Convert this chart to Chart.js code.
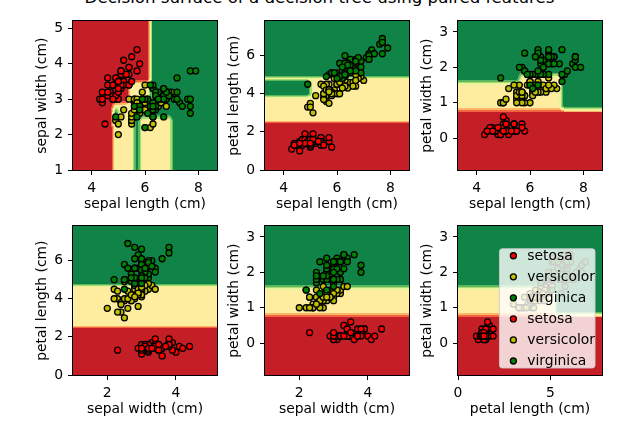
<!DOCTYPE html>
<html><head><meta charset="utf-8">
<script src="https://cdn.jsdelivr.net/npm/chart.js@4.4.0/dist/chart.umd.min.js"></script>
<style>
html,body{margin:0;padding:0;background:#fff;width:639px;height:430px;overflow:hidden;position:relative;}
canvas{position:absolute;}
#title{position:absolute;left:0;top:-12px;width:639px;text-align:center;font-family:"DejaVu Sans";font-size:16.67px;line-height:20px;white-space:nowrap;color:#000;}
</style></head><body>
<div id="title">Decision surface of a decision tree using paired features</div>
<script>
// ---------------- data ----------------
const speciesNames = ['setosa', 'versicolor', 'virginica'];
const featureNames = ['sepal length (cm)', 'sepal width (cm)', 'petal length (cm)', 'petal width (cm)'];

const setosaSL = [5.1,4.9,4.7,4.6,5.0,5.4,4.6,5.0,4.4,4.9,5.4,4.8,4.8,4.3,5.8,5.7,5.4,5.1,5.7,5.1,5.4,5.1,4.6,5.1,4.8,5.0,5.0,5.2,5.2,4.7,4.8,5.4,5.2,5.5,4.9,5.0,5.5,4.9,4.4,5.1,5.0,4.5,4.4,5.0,5.1,4.8,5.1,4.6,5.3,5.0];
const setosaSW = [3.5,3.0,3.2,3.1,3.6,3.9,3.4,3.4,2.9,3.1,3.7,3.4,3.0,3.0,4.0,4.4,3.9,3.5,3.8,3.8,3.4,3.7,3.6,3.3,3.4,3.0,3.4,3.5,3.4,3.2,3.1,3.4,4.1,4.2,3.1,3.2,3.5,3.6,3.0,3.4,3.5,2.3,3.2,3.5,3.8,3.0,3.8,3.2,3.7,3.3];
const setosaPL = [1.4,1.4,1.3,1.5,1.4,1.7,1.4,1.5,1.4,1.5,1.5,1.6,1.4,1.1,1.2,1.5,1.3,1.4,1.7,1.5,1.7,1.5,1.0,1.7,1.9,1.6,1.6,1.5,1.4,1.6,1.6,1.5,1.5,1.4,1.5,1.2,1.3,1.4,1.3,1.5,1.3,1.3,1.3,1.6,1.9,1.4,1.6,1.4,1.5,1.4];
const setosaPW = [0.2,0.2,0.2,0.2,0.2,0.4,0.3,0.2,0.2,0.1,0.2,0.2,0.1,0.1,0.2,0.4,0.4,0.3,0.3,0.3,0.2,0.4,0.2,0.5,0.2,0.2,0.4,0.2,0.2,0.2,0.2,0.4,0.1,0.2,0.2,0.2,0.2,0.1,0.2,0.2,0.3,0.3,0.2,0.6,0.4,0.3,0.2,0.2,0.2,0.2];

const versicolorSL = [7.0,6.4,6.9,5.5,6.5,5.7,6.3,4.9,6.6,5.2,5.0,5.9,6.0,6.1,5.6,6.7,5.6,5.8,6.2,5.6,5.9,6.1,6.3,6.1,6.4,6.6,6.8,6.7,6.0,5.7,5.5,5.5,5.8,6.0,5.4,6.0,6.7,6.3,5.6,5.5,5.5,6.1,5.8,5.0,5.6,5.7,5.7,6.2,5.1,5.7];
const versicolorSW = [3.2,3.2,3.1,2.3,2.8,2.8,3.3,2.4,2.9,2.7,2.0,3.0,2.2,2.9,2.9,3.1,3.0,2.7,2.2,2.5,3.2,2.8,2.5,2.8,2.9,3.0,2.8,3.0,2.9,2.6,2.4,2.4,2.7,2.7,3.0,3.4,3.1,2.3,3.0,2.5,2.6,3.0,2.6,2.3,2.7,3.0,2.9,2.9,2.5,2.8];
const versicolorPL = [4.7,4.5,4.9,4.0,4.6,4.5,4.7,3.3,4.6,3.9,3.5,4.2,4.0,4.7,3.6,4.4,4.5,4.1,4.5,3.9,4.8,4.0,4.9,4.7,4.3,4.4,4.8,5.0,4.5,3.5,3.8,3.7,3.9,5.1,4.5,4.5,4.7,4.4,4.1,4.0,4.4,4.6,4.0,3.3,4.2,4.2,4.2,4.3,3.0,4.1];
const versicolorPW = [1.4,1.5,1.5,1.3,1.5,1.3,1.6,1.0,1.3,1.4,1.0,1.5,1.0,1.4,1.3,1.4,1.5,1.0,1.5,1.1,1.8,1.3,1.5,1.2,1.3,1.4,1.4,1.7,1.5,1.0,1.1,1.0,1.2,1.6,1.5,1.6,1.5,1.3,1.3,1.3,1.2,1.4,1.2,1.0,1.3,1.2,1.3,1.3,1.1,1.3];

const virginicaSL = [6.3,5.8,7.1,6.3,6.5,7.6,4.9,7.3,6.7,7.2,6.5,6.4,6.8,5.7,5.8,6.4,6.5,7.7,7.7,6.0,6.9,5.6,7.7,6.3,6.7,7.2,6.2,6.1,6.4,7.2,7.4,7.9,6.4,6.3,6.1,7.7,6.3,6.4,6.0,6.9,6.7,6.9,5.8,6.8,6.7,6.7,6.3,6.5,6.2,5.9];
const virginicaSW = [3.3,2.7,3.0,2.9,3.0,3.0,2.5,2.9,2.5,3.6,3.2,2.7,3.0,2.5,2.8,3.2,3.0,3.8,2.6,2.2,3.2,2.8,2.8,2.7,3.3,3.2,2.8,3.0,2.8,3.0,2.8,3.8,2.8,2.8,2.6,3.0,3.4,3.1,3.0,3.1,3.1,3.1,2.7,3.2,3.3,3.0,2.5,3.0,3.4,3.0];
const virginicaPL = [6.0,5.1,5.9,5.6,5.8,6.6,4.5,6.3,5.8,6.1,5.1,5.3,5.5,5.0,5.1,5.3,5.5,6.7,6.9,5.0,5.7,4.9,6.7,4.9,5.7,6.0,4.8,4.9,5.6,5.8,6.1,6.4,5.6,5.1,5.6,6.1,5.6,5.5,4.8,5.4,5.6,5.1,5.1,5.9,5.7,5.2,5.0,5.2,5.4,5.1];
const virginicaPW = [2.5,1.9,2.1,1.8,2.2,2.1,1.7,1.8,1.8,2.5,2.0,1.9,2.1,2.0,2.4,2.3,1.8,2.2,2.3,1.5,2.3,2.0,2.0,1.8,2.1,1.8,1.8,1.8,2.1,1.6,1.9,2.0,2.2,1.5,1.4,2.3,2.4,1.8,1.8,2.1,2.4,2.3,1.9,2.3,2.5,2.3,1.9,2.0,2.3,1.8];

// grid extent of each feature (decision-surface mesh, step 0.2)
const featureMin = [3.3, 1.0, 0.0, -0.9];
const featureMax = [8.7, 5.2, 7.8, 3.3];
const meshStep = 0.2;

// feature pairs plotted (x feature, y feature)
const pairs = [[0,1],[0,2],[0,3],[1,2],[1,3],[2,3]];
const xTickValues = [[4,6,8],[4,6,8],[4,6,8],[2,4],[2,4],[0,5]];
const yTickValues = [[1,2,3,4,5],[0,2,4,6],[0,1,2,3],[0,2,4,6],[0,1,2,3],[0,1,2,3]];

// predicted class regions: [x0, x1, y0, y1, class]; later entries win
const baseClass = [2, 2, 2, 2, 2, 2];
const regions1 = [
  [4.8, 7.0, 1.0, 2.9, 1],
  [5.8, 7.0, 2.5, 2.9, 2],
  [3.3, 4.8, 1.0, 5.2, 0],
  [3.3, 5.4, 2.9, 5.2, 0],
  [5.4, 6.2, 2.9, 3.5, 1],
  [3.3, 6.2, 3.5, 5.2, 0],
  [5.6, 5.8, 1.0, 2.7, 2],
  [4.8, 5.0, 2.3, 2.7, 2]
];
const regions2 = [
  [3.3, 8.7, 0.0, 2.5, 0],
  [3.3, 8.7, 2.5, 4.9, 1],
  [3.3, 5.0, 3.9, 4.7, 2]
];
const regions3 = [
  [3.3, 8.7, -0.9, 0.8, 0],
  [3.3, 7.2, 0.8, 1.6, 1],
  [5.6, 7.2, 1.6, 1.8, 1]
];
const regions4 = [
  [1.0, 5.2, 0.0, 2.5, 0],
  [1.0, 5.2, 2.5, 4.7, 1]
];
const regions5 = [
  [1.0, 5.2, -0.9, 0.8, 0],
  [1.0, 5.2, 0.8, 1.6, 1]
];
const regions6 = [
  [0.0, 7.8, -0.9, 0.8, 0],
  [0.0, 5.3, 0.8, 1.6, 1]
];
const allRegions = [regions1, regions2, regions3, regions4, regions5, regions6];
const legendLabels = speciesNames.concat(speciesNames);

// ---------------- styling / layout ----------------
const pointColors = ['#ff0000', '#bfbf00', '#008000'];
const rdylgn = [[165,0,38],[215,48,39],[244,109,67],[253,174,97],[254,224,139],[255,255,191],[217,239,139],[166,217,106],[102,189,99],[26,152,80],[0,104,55]];
const plotLeft = [73, 265, 458, 73, 265, 458];
const plotTop = [18, 18, 18, 223, 223, 223];
const plotW = 144, plotH = 152;
const axisW = 50, axisH = 50, padT = 10, padR = 10;
const FONT = 'DejaVu Sans', FS = 13.9;
const PR = 3.0, PBW = 1.3;

function cmap(t) {
  const idx = Math.min(255, Math.max(0, Math.floor(t * 256)));
  const s = idx / 255 * 10;
  const k = Math.min(9, Math.floor(s));
  const f = s - k;
  return rdylgn[k].map((c, i) => Math.round(c + (rdylgn[k + 1][i] - c) * f));
}
// contourf levels 0,0.25,...,2 -> 8 bands coloured at their midpoints
const bandColors = [];
for (let k = 0; k < 8; k++) bandColors.push(cmap(((k + 0.5) * 0.25) / 2));

const speciesData = [
  [setosaSL, setosaSW, setosaPL, setosaPW],
  [versicolorSL, versicolorSW, versicolorPL, versicolorPW],
  [virginicaSL, virginicaSW, virginicaPL, virginicaPW]
];

function classAt(k, x, y) {
  let c = baseClass[k];
  for (const r of allRegions[k]) {
    if (x >= r[0] && x <= r[1] && y >= r[2] && y <= r[3]) c = r[4];
  }
  return c;
}

function buildMesh(k) {
  const [fx, fy] = pairs[k];
  const nx = Math.round((featureMax[fx] - featureMin[fx]) / meshStep) + 1;
  const ny = Math.round((featureMax[fy] - featureMin[fy]) / meshStep) + 1;
  const Z = [];
  for (let j = 0; j < ny; j++) {
    const row = [];
    const y = Math.round((featureMin[fy] + j * meshStep) * 1e6) / 1e6;
    for (let i = 0; i < nx; i++) {
      const x = Math.round((featureMin[fx] + i * meshStep) * 1e6) / 1e6;
      row.push(classAt(k, x, y));
    }
    Z.push(row);
  }
  return {Z, nx, ny, xmin: featureMin[fx], ymin: featureMin[fy]};
}

const surfacePlugin = {
  id: 'surface',
  beforeDatasetsDraw(chart) {
    const mesh = chart.options.plugins.surface && chart.options.plugins.surface.mesh;
    if (!mesh) return;
    const xs = chart.scales.x, ys = chart.scales.y, a = chart.chartArea;
    const x0 = Math.round(a.left), y0 = Math.round(a.top);
    const w = Math.round(a.right) - x0, h = Math.round(a.bottom) - y0;
    const off = document.createElement('canvas');
    off.width = w; off.height = h;
    const octx = off.getContext('2d');
    const img = octx.createImageData(w, h);
    const {Z, nx, ny, xmin, ymin} = mesh;
    for (let py = 0; py < h; py++) {
      const vy = ys.getValueForPixel(y0 + py + 0.5);
      let fy = Math.min(ny - 1, Math.max(0, (vy - ymin) / meshStep));
      let j = Math.min(ny - 2, Math.floor(fy)); const ty = fy - j;
      for (let px = 0; px < w; px++) {
        const vx = xs.getValueForPixel(x0 + px + 0.5);
        let fx = Math.min(nx - 1, Math.max(0, (vx - xmin) / meshStep));
        let i = Math.min(nx - 2, Math.floor(fx)); const tx = fx - i;
        let z = (Z[j][i] * (1 - tx) + Z[j][i + 1] * tx) * (1 - ty) + (Z[j + 1][i] * (1 - tx) + Z[j + 1][i + 1] * tx) * ty;
        z = Math.round(z * 1e6) / 1e6;
        let band = z <= 0.25 ? 0 : Math.ceil(z / 0.25) - 1;
        band = Math.min(7, Math.max(0, band));
        const c = bandColors[band];
        const o = (py * w + px) * 4;
        img.data[o] = c[0]; img.data[o + 1] = c[1]; img.data[o + 2] = c[2]; img.data[o + 3] = 255;
      }
    }
    octx.putImageData(img, 0, 0);
    chart.ctx.drawImage(off, x0, y0);
  },
  afterDatasetsDraw(chart) {
    const a = chart.chartArea, ctx = chart.ctx;
    ctx.save();
    ctx.strokeStyle = '#000';
    ctx.lineWidth = 1;
    ctx.strokeRect(Math.round(a.left) - 0.5, Math.round(a.top) - 0.5, Math.round(a.right - a.left) + 1, Math.round(a.bottom - a.top) + 1);
    ctx.restore();
  }
};

const legendPlugin = {
  id: 'boxLegend',
  afterDraw(chart) {
    const opt = chart.options.plugins.boxLegend;
    if (!opt || !opt.labels) return;
    const ctx = chart.ctx, a = chart.chartArea;
    ctx.save();
    ctx.font = FS + 'px "' + FONT + '"';
    let maxW = 0;
    for (const l of opt.labels) maxW = Math.max(maxW, ctx.measureText(l).width);
    const handle = 2 * FS;
    const bw = handle + maxW, rowH = 14.1, gap = 0.5 * FS;
    const bh = opt.labels.length * rowH + (opt.labels.length - 1) * gap;
    const bx = a.right - 0.5 * FS - bw, by = a.bottom - 0.5 * FS - bh;
    const r = 2.8;
    ctx.beginPath();
    ctx.moveTo(bx + r, by); ctx.lineTo(bx + bw - r, by); ctx.arcTo(bx + bw, by, bx + bw, by + r, r);
    ctx.lineTo(bx + bw, by + bh - r); ctx.arcTo(bx + bw, by + bh, bx + bw - r, by + bh, r);
    ctx.lineTo(bx + r, by + bh); ctx.arcTo(bx, by + bh, bx, by + bh - r, r);
    ctx.lineTo(bx, by + r); ctx.arcTo(bx, by, bx + r, by, r); ctx.closePath();
    ctx.fillStyle = 'rgba(255,255,255,0.8)'; ctx.fill();
    ctx.strokeStyle = 'rgba(204,204,204,0.8)'; ctx.lineWidth = 1; ctx.stroke();
    ctx.textBaseline = 'middle'; ctx.textAlign = 'left';
    opt.labels.forEach((l, i) => {
      const cy = by + rowH / 2 + i * (rowH + gap);
      ctx.beginPath(); ctx.arc(bx + handle / 2, cy, PR, 0, Math.PI * 2);
      ctx.fillStyle = opt.colors[i]; ctx.fill();
      ctx.strokeStyle = '#000'; ctx.lineWidth = PBW; ctx.stroke();
      ctx.fillStyle = '#000'; ctx.fillText(l, bx + handle, cy + 0.5);
    });
    ctx.restore();
  }
};

Chart.defaults.font.family = FONT;
Chart.defaults.font.size = FS;
Chart.defaults.color = '#000';

function axisOptions(k, isX) {
  const f = pairs[k][isX ? 0 : 1];
  const ticksArr = isX ? xTickValues[k] : yTickValues[k];
  return {
    type: 'linear',
    position: isX ? 'bottom' : 'left',
    min: featureMin[f], max: featureMax[f], bounds: 'data',
    afterBuildTicks: (s) => { s.ticks = ticksArr.map(v => ({value: v})); },
    afterFit: (s) => { if (isX) s.height = axisH; else s.width = axisW; },
    ticks: {autoSkip: false, maxRotation: 0, minRotation: 0, padding: 5, color: '#000', font: {size: FS}, callback: (v) => String(v)},
    grid: {display: true, drawOnChartArea: false, drawTicks: true, tickLength: 5, color: '#000', lineWidth: 1},
    border: {display: false},
    title: {display: true, text: featureNames[f], color: '#000', font: {size: FS},
      padding: isX ? {top: 0, bottom: 7.66} : {top: 10.66, bottom: 0}}
  };
}

for (let k = 0; k < 6; k++) {
  const cv = document.createElement('canvas');
  const cw = axisW + plotW + padR, ch = padT + plotH + axisH;
  cv.width = cw; cv.height = ch;
  cv.style.width = cw + 'px'; cv.style.height = ch + 'px';
  cv.style.left = (plotLeft[k] - axisW) + 'px';
  cv.style.top = (plotTop[k] - padT) + 'px';
  document.body.appendChild(cv);
  const [fx, fy] = pairs[k];
  const datasets = [2, 1, 0].map(s => ({
    label: speciesNames[s],
    data: speciesData[s][fx].map((v, i) => ({x: v, y: speciesData[s][fy][i]})),
    backgroundColor: pointColors[s], borderColor: '#000', borderWidth: PBW,
    pointRadius: PR, pointHoverRadius: PR
  }));
  new Chart(cv, {
    type: 'scatter',
    data: {datasets},
    options: {
      responsive: false, animation: false, events: [],
      layout: {padding: {top: padT, right: padR, left: 0, bottom: 0}},
      scales: {x: axisOptions(k, true), y: axisOptions(k, false)},
      plugins: {
        legend: {display: false}, tooltip: {enabled: false},
        surface: {mesh: buildMesh(k)},
        boxLegend: k === 5 ? {labels: legendLabels, colors: legendLabels.map((l) => pointColors[speciesNames.indexOf(l)])} : {}
      }
    },
    plugins: [surfacePlugin, legendPlugin]
  });
}
</script>
</body></html>
